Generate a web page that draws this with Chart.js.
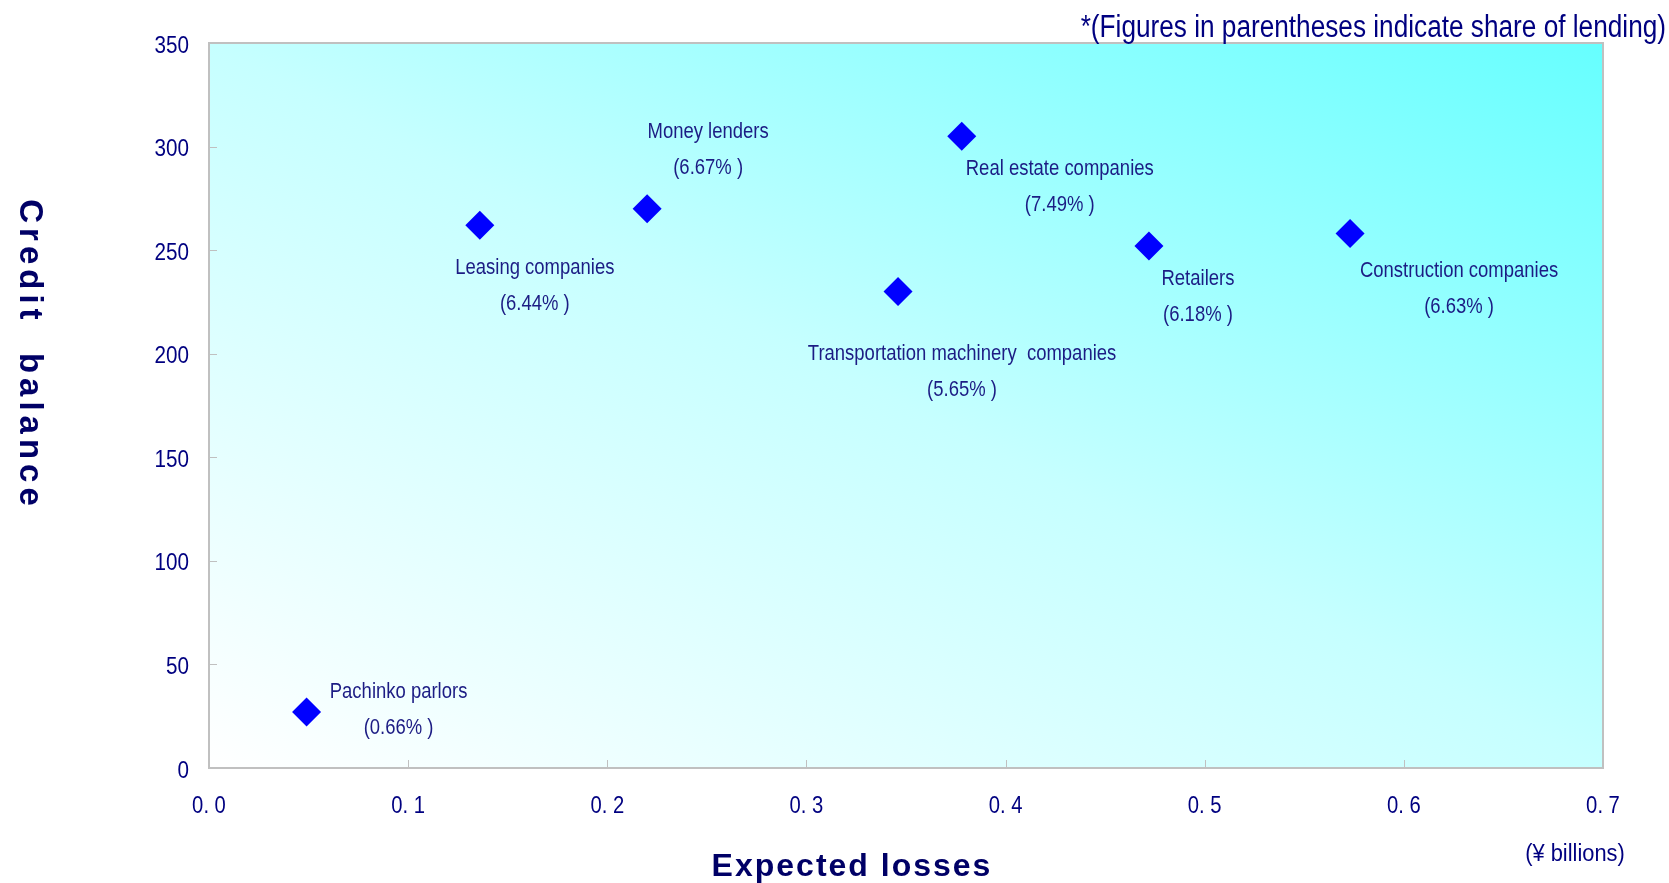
<!DOCTYPE html>
<html>
<head>
<meta charset="utf-8">
<script src="https://cdn.jsdelivr.net/npm/chart.js@4.4.1/dist/chart.umd.min.js"></script>
<style>
  html, body { margin: 0; padding: 0; background: #ffffff; }
  #wrap { width: 1669px; height: 883px; position: relative; }
</style>
</head>
<body>
<div id="wrap"><canvas id="chart" width="1669" height="883"></canvas></div>
<script>
// Industries plotted: expected losses (¥ billions) vs credit balance
const industries = [
  'Pachinko parlors',
  'Leasing companies',
  'Money lenders',
  'Transportation machinery  companies',
  'Real estate companies',
  'Retailers',
  'Construction companies'
];
const expectedLosses = [0.049, 0.136, 0.220, 0.346, 0.378, 0.472, 0.573];
const creditBalance  = [27, 262, 270, 230, 305, 252, 258];
const lendingShare   = ['0.66', '6.44', '6.67', '5.65', '7.49', '6.18', '6.63'];

const xTickLabels = ['0. 0', '0. 1', '0. 2', '0. 3', '0. 4', '0. 5', '0. 6', '0. 7'];
const yTickLabels = ['0', '50', '100', '150', '200', '250', '300', '350'];

// Label placement (pixel offset of the first text line from its marker)
const labelOffsets = [
  [92, -20], [55, 43], [61, -77], [64, 62], [98, 33], [49, 33], [109, 37]
];

const SANS = '"Liberation Sans", Arial, sans-serif';
const NAVY = '#000080';
const LABEL_NAVY = '#1c1c84';

// Arial-style text squeezed horizontally, for a narrow typeface look
function narrowText(ctx, text, x, y, size, squeeze, align) {
  ctx.save();
  ctx.translate(x, y);
  ctx.scale(squeeze, 1);
  ctx.font = size + 'px ' + SANS;
  ctx.textAlign = align;
  ctx.textBaseline = 'middle';
  ctx.fillText(text, 0, 0);
  ctx.restore();
}

const points = expectedLosses.map((x, i) => ({ x: x, y: creditBalance[i] }));

const plotDecor = {
  id: 'plotDecor',
  beforeDatasetsDraw(chart) {
    const { ctx, chartArea: a } = chart;
    const W = a.right - a.left, H = a.bottom - a.top;
    const k = 2 * W * H / (W * W + H * H);
    const g = ctx.createLinearGradient(a.left, a.bottom, a.left + k * H, a.bottom - k * W);
    g.addColorStop(0, '#ffffff');
    g.addColorStop(0.5, '#c6ffff');
    g.addColorStop(1, '#66ffff');
    ctx.save();
    ctx.fillStyle = g;
    ctx.fillRect(a.left, a.top, W, H);

    // small inward tick marks
    ctx.strokeStyle = '#c0c0c0';
    ctx.lineWidth = 1;
    const xs = chart.scales.x, ys = chart.scales.y;
    ctx.beginPath();
    xs.ticks.forEach((t, i) => {
      const px = Math.round(xs.getPixelForTick(i)) + 0.5;
      ctx.moveTo(px, a.bottom);
      ctx.lineTo(px, a.bottom - 8);
    });
    ys.ticks.forEach((t, i) => {
      const py = Math.round(ys.getPixelForTick(i)) + 0.5;
      ctx.moveTo(a.left, py);
      ctx.lineTo(a.left + 8, py);
    });
    ctx.stroke();

    // plot frame
    ctx.lineWidth = 2;
    ctx.strokeStyle = '#c0c0c0';
    ctx.strokeRect(a.left, a.top, W, H);

    // tick labels, placed at the scales' own tick positions
    ctx.fillStyle = NAVY;
    xs.ticks.forEach((t, i) => {
      narrowText(ctx, xTickLabels[i], xs.getPixelForTick(i), a.bottom + 39, 23, 0.88, 'center');
    });
    ys.ticks.forEach((t, i) => {
      narrowText(ctx, yTickLabels[i], a.left - 20, ys.getPixelForTick(i) + 3, 24, 0.86, 'right');
    });
    ctx.restore();
  },
  afterDatasetsDraw(chart) {
    const { ctx } = chart;
    const meta = chart.getDatasetMeta(0);
    ctx.save();
    ctx.fillStyle = LABEL_NAVY;
    meta.data.forEach((el, i) => {
      const [dx, dy] = labelOffsets[i];
      narrowText(ctx, industries[i], el.x + dx, el.y + dy, 22, 0.84, 'center');
      narrowText(ctx, '(' + lendingShare[i] + '% )', el.x + dx, el.y + dy + 36, 22, 0.84, 'center');
    });
    ctx.restore();
  },
  afterDraw(chart) {
    const { ctx } = chart;
    ctx.save();
    ctx.fillStyle = '#000066';
    // axis titles
    ctx.font = 'bold 32px ' + SANS;
    ctx.letterSpacing = '2px';
    ctx.textAlign = 'center';
    ctx.textBaseline = 'alphabetic';
    ctx.fillText('Expected losses', 852, 876);

    ctx.save();
    ctx.translate(29, 353);
    ctx.rotate(Math.PI / 2);
    ctx.font = 'bold 33px ' + SANS;
    ctx.letterSpacing = '5px';
    ctx.textBaseline = 'middle';
    ctx.fillText('Credit  balance', 2, 0);
    ctx.restore();

    ctx.letterSpacing = '0px';
    ctx.fillStyle = NAVY;
    narrowText(ctx, '(¥ billions)', 1575, 855, 23, 0.95, 'center');
    narrowText(ctx, '*(Figures in parentheses indicate share of lending)', 1666, 28, 31, 0.845, 'right');
    ctx.restore();
  }
};

new Chart(document.getElementById('chart'), {
  type: 'scatter',
  data: {
    datasets: [{
      data: points,
      pointStyle: 'rectRot',
      pointRadius: 14.5,
      pointHoverRadius: 14.5,
      backgroundColor: '#0000ff',
      borderColor: '#0000ff',
      borderWidth: 0
    }]
  },
  options: {
    responsive: false,
    devicePixelRatio: 1,
    animation: false,
    events: [],
    layout: { padding: { top: 43, right: 66, left: 0, bottom: 0 } },
    plugins: { legend: { display: false }, tooltip: { enabled: false } },
    scales: {
      x: {
        type: 'linear',
        min: 0, max: 0.7,
        afterFit(scale) { scale.height = 115; },
        border: { display: false },
        grid: { display: false, drawTicks: false },
        ticks: {
          stepSize: 0.1,
          display: false,
          callback: (v, i) => xTickLabels[i]
        }
      },
      y: {
        type: 'linear',
        min: 0, max: 350,
        afterFit(scale) { scale.width = 209; },
        border: { display: false },
        grid: { display: false, drawTicks: false },
        ticks: {
          stepSize: 50,
          display: false,
          callback: (v, i) => yTickLabels[i]
        }
      }
    }
  },
  plugins: [plotDecor]
});
</script>
</body>
</html>
